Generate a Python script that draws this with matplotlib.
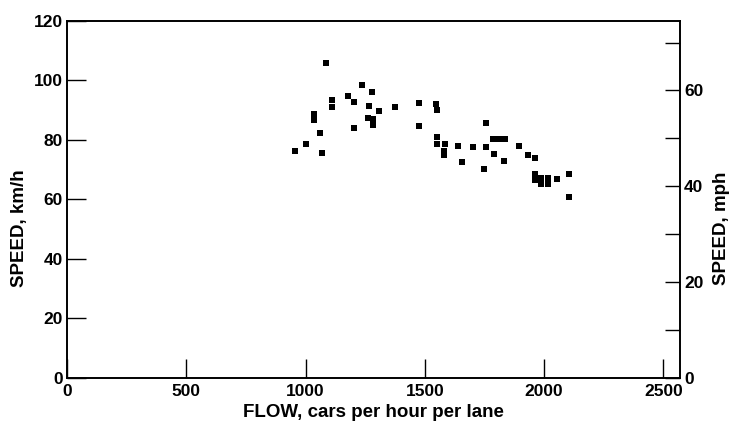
import matplotlib
matplotlib.use("Agg")
from matplotlib import pyplot as plt

plt.rcParams["font.family"] = ["Liberation Sans", "DejaVu Sans"]
plt.rcParams["font.weight"] = "bold"

# flow (cars/h/lane) and speed (km/h)
flow = [957, 1002, 1034, 1034, 1061, 1071, 1086, 1112, 1112, 1180, 1203,
        1202, 1237, 1265, 1262, 1280, 1283, 1281, 1309, 1376, 1476, 1476,
        1548, 1553, 1553, 1553, 1583, 1580, 1580, 1639, 1655, 1704, 1750,
        1757, 1757, 1787, 1791, 1812, 1834, 1838, 1894, 1931, 1963, 1961,
        1961, 1989, 1989, 2018, 2018, 2056, 2103, 2103]
speed = [76.1, 78.5, 88.7, 86.5, 82.1, 75.7, 105.9, 93.3, 91.0, 94.7, 92.6,
         84.0, 98.3, 91.2, 87.4, 96.0, 87.0, 84.8, 89.8, 91.1, 92.2, 84.6,
         92.1, 89.9, 80.9, 78.7, 78.5, 76.3, 74.8, 77.8, 72.5, 77.6, 70.3,
         77.6, 85.7, 80.2, 75.1, 80.2, 72.9, 80.2, 77.9, 74.8, 73.8, 68.6,
         66.4, 67.3, 65.0, 67.3, 65.1, 66.9, 68.6, 60.8]

x_ticks = [0, 500, 1000, 1500, 2000, 2500]
kmh_ticks = [0, 20, 40, 60, 80, 100, 120]
mph_major = [0, 20, 40, 60]
mph_minor = [10, 30, 50, 70]
KMH_PER_MPH = 1.609344

fig = plt.figure(figsize=(7.32, 4.30), dpi=100)
ax = fig.add_axes([0.0915, 0.121, 0.8375, 0.831])
ax.scatter(flow, speed, marker="s", s=14, color="black", linewidths=0)

ax.set_xlim(0, 2570)
ax.set_ylim(0, 120)
ax.set_xticks(x_ticks)
ax.set_yticks(kmh_ticks)
ax.tick_params(direction="in", length=14, width=1, labelsize=12.5, pad=3)
ax.tick_params(axis="x", pad=4)
for lab in ax.get_xticklabels() + ax.get_yticklabels():
    lab.set_fontweight("bold")
for sp in ax.spines.values():
    sp.set_linewidth(1.2)
ax.set_xlabel("FLOW, cars per hour per lane", fontsize=13.5, fontweight="bold", labelpad=4)
ax.set_ylabel("SPEED, km/h", fontsize=13.5, fontweight="bold")
ax.yaxis.set_label_coords(-0.063, 0.42)

# right axis in mph
ax2 = ax.twinx()
ax2.set_ylim(0, 120 / KMH_PER_MPH)
ax2.set_yticks(mph_major)
ax2.set_yticks(mph_minor, minor=True)
ax2.tick_params(which="both", direction="in", length=11, width=1, labelsize=12.5, pad=3)
for lab in ax2.get_yticklabels():
    lab.set_fontweight("bold")
for sp in ax2.spines.values():
    sp.set_linewidth(1.2)
ax2.set_ylabel("SPEED, mph", fontsize=13.5, fontweight="bold")
ax2.yaxis.set_label_coords(1.054, 0.42)

fig.savefig("out.png", dpi=100, facecolor="white")
plt.close(fig)
